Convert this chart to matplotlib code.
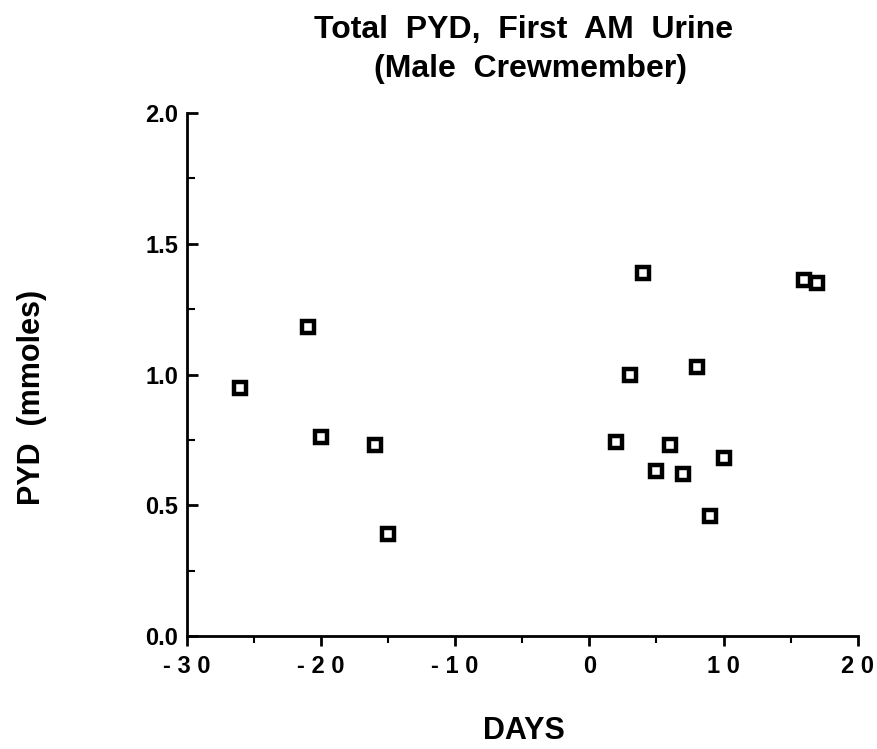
import numpy as np
import matplotlib.pyplot as plt
from matplotlib.ticker import MultipleLocator

days = [-26, -21, -20, -16, -15, 2, 3, 4, 5, 6, 7, 8, 9, 10, 16, 17]
pyd = [0.95, 1.18, 0.76, 0.73, 0.39, 0.74, 1.00, 1.39, 0.63, 0.73, 0.62, 1.03, 0.46, 0.68, 1.36, 1.35]

xticks = [-30, -20, -10, 0, 10, 20]
xtick_labels = ['- 3 0', '- 2 0', '- 1 0', '0', '1 0', '2 0']
yticks = [0.0, 0.5, 1.0, 1.5, 2.0]


def main():
    plt.rcParams['font.family'] = ['Liberation Sans', 'DejaVu Sans']
    fig = plt.figure(figsize=(8.77, 7.49), dpi=100)
    ax = fig.add_axes([0.213, 0.151, 0.765, 0.698])

    ax.plot(days, pyd, linestyle='none', marker='s', markersize=8.5,
            markerfacecolor='white', markeredgecolor='black', markeredgewidth=3.2,
            clip_on=False)

    ax.set_xlim(-30, 20)
    ax.set_ylim(0, 2.0)
    ax.set_xticks(xticks)
    ax.set_xticklabels(xtick_labels)
    ax.set_yticks(yticks)
    ax.set_yticklabels(['%.1f' % v for v in yticks])
    ax.xaxis.set_minor_locator(MultipleLocator(5))
    ax.yaxis.set_minor_locator(MultipleLocator(0.25))

    for s in ['top', 'right']:
        ax.spines[s].set_visible(False)
    for s in ['left', 'bottom']:
        ax.spines[s].set_linewidth(2)

    ax.tick_params(axis='x', which='major', direction='out', length=7, width=2,
                   labelsize=17, pad=7)
    ax.tick_params(axis='x', which='minor', direction='out', length=5, width=1.5)
    ax.tick_params(axis='y', which='major', direction='in', length=8, width=2,
                   labelsize=17, pad=6)
    ax.tick_params(axis='y', which='minor', direction='in', length=6, width=1.5)
    for lab in ax.get_xticklabels() + ax.get_yticklabels():
        lab.set_fontweight('bold')

    cx = 0.597
    fig.text(cx, 1 - 38 / 749, 'Total  PYD,  First  AM  Urine', ha='center',
             va='baseline', fontsize=23, fontweight='bold')
    fig.text(cx + 0.008, 1 - 77 / 749, '(Male  Crewmember)', ha='center',
             va='baseline', fontsize=23, fontweight='bold')
    fig.text(0.036, 0.47, 'PYD  (mmoles)', rotation=90, ha='center',
             va='center', fontsize=22, fontweight='bold')
    fig.text(cx, 0.004, 'DAYS', ha='center', va='bottom',
             fontsize=22, fontweight='bold')

    fig.savefig('out.png', dpi=100)


if __name__ == "__main__":
    main()
